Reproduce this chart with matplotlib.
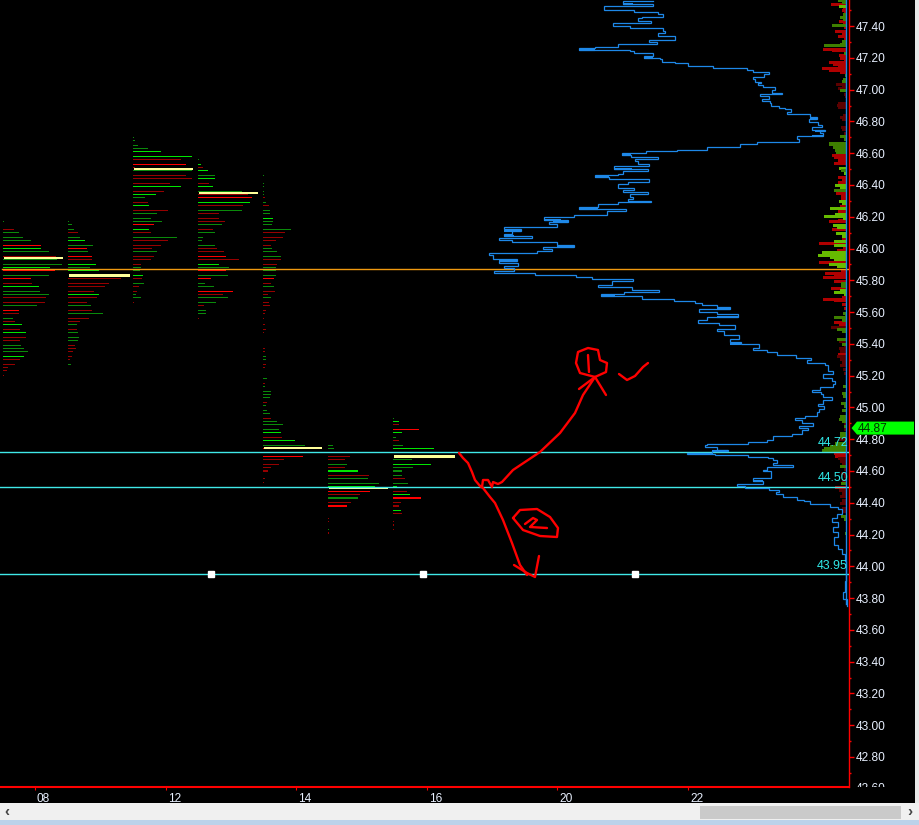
import matplotlib
matplotlib.use("Agg")
import matplotlib.pyplot as plt
from matplotlib.patches import Rectangle, Polygon
from matplotlib.transforms import Affine2D, Bbox, ScaledTranslation
from matplotlib.ticker import MultipleLocator

plt.rcParams['font.family'] = ['Liberation Sans', 'DejaVu Sans']

# ---------- data ----------
session_1 = [(46.17,1,'g'),(46.12,11,'r'),(46.10,16,'g'),(46.07,20,'g'),(46.05,28,'g'),(46.02,38,'R'),(46.00,38,'G'),(45.98,46,'g'),(45.95,53,'r'),(45.93,54,'g'),(45.90,59,'g'),(45.88,47,'G'),(45.86,52,'R'),(45.83,46,'g'),(45.81,28,'R'),(45.78,29,'r'),(45.76,36,'G'),(45.73,37,'g'),(45.71,46,'g'),(45.69,43,'r'),(45.66,42,'r'),(45.64,34,'g'),(45.61,16,'R'),(45.59,16,'r'),(45.56,10,'g'),(45.54,12,'r'),(45.52,19,'G'),(45.49,17,'r'),(45.47,23,'G'),(45.44,23,'r'),(45.42,17,'r'),(45.39,18,'g'),(45.37,21,'g'),(45.35,25,'g'),(45.32,21,'G'),(45.30,17,'r'),(45.27,12,'r'),(45.25,5,'r'),(45.23,4,'r'),(45.20,1,'r')]
session_2 = [(46.17,1,'g'),(46.15,4,'g'),(46.12,6,'g'),(46.10,10,'r'),(46.07,12,'g'),(46.05,17,'G'),(46.02,25,'g'),(46.00,19,'R'),(45.98,20,'g'),(45.95,24,'R'),(45.93,24,'r'),(45.90,28,'G'),(45.88,22,'g'),(45.86,31,'G'),(45.81,53,'r'),(45.78,41,'r'),(45.76,37,'r'),(45.73,26,'r'),(45.71,31,'G'),(45.69,29,'r'),(45.66,19,'r'),(45.64,23,'g'),(45.61,24,'r'),(45.59,35,'g'),(45.56,21,'r'),(45.54,12,'r'),(45.52,9,'g'),(45.49,9,'r'),(45.47,10,'g'),(45.44,11,'g'),(45.42,10,'g'),(45.39,7,'r'),(45.37,8,'r'),(45.35,5,'r'),(45.32,4,'r'),(45.30,2,'r'),(45.27,3,'g')]
session_3 = [(46.70,1,'g'),(46.68,2,'g'),(46.65,5,'g'),(46.63,15,'g'),(46.61,28,'G'),(46.58,59,'G'),(46.56,48,'r'),(46.53,53,'R'),(46.51,2,'r'),(46.49,59,'g'),(46.46,53,'r'),(46.44,59,'r'),(46.41,37,'r'),(46.39,48,'G'),(46.36,31,'r'),(46.34,23,'G'),(46.32,12,'g'),(46.29,15,'r'),(46.27,16,'G'),(46.24,35,'r'),(46.22,24,'g'),(46.19,18,'g'),(46.17,29,'g'),(46.15,21,'R'),(46.12,16,'G'),(46.10,18,'r'),(46.07,44,'g'),(46.05,35,'r'),(46.02,28,'r'),(46.00,19,'r'),(45.98,24,'g'),(45.95,21,'r'),(45.93,18,'r'),(45.90,8,'r'),(45.88,8,'g'),(45.86,7,'g'),(45.83,10,'G'),(45.81,9,'r'),(45.78,11,'g'),(45.76,6,'r'),(45.73,4,'r'),(45.71,3,'g'),(45.69,8,'g'),(45.66,1,'r')]
session_4 = [(46.56,1,'g'),(46.53,3,'G'),(46.51,5,'r'),(46.49,10,'G'),(46.46,17,'g'),(46.44,17,'G'),(46.41,11,'r'),(46.39,15,'G'),(46.36,44,'g'),(46.34,50,'r'),(46.32,54,'R'),(46.29,52,'G'),(46.27,45,'r'),(46.24,44,'g'),(46.22,21,'r'),(46.19,21,'r'),(46.17,27,'r'),(46.15,24,'g'),(46.12,15,'r'),(46.10,17,'g'),(46.07,5,'g'),(46.05,4,'g'),(46.02,17,'g'),(46.00,19,'r'),(45.98,26,'r'),(45.95,28,'R'),(45.93,41,'r'),(45.90,21,'G'),(45.88,31,'g'),(45.86,28,'R'),(45.83,30,'g'),(45.81,13,'R'),(45.78,7,'g'),(45.76,16,'g'),(45.73,35,'R'),(45.71,25,'r'),(45.69,30,'g'),(45.66,18,'g'),(45.64,6,'r'),(45.61,8,'g'),(45.59,8,'g'),(45.56,1,'r')]
session_5 = [(46.46,1,'g'),(46.41,1,'g'),(46.39,1,'g'),(46.36,1,'g'),(46.34,1,'g'),(46.32,2,'r'),(46.29,3,'g'),(46.27,6,'r'),(46.24,7,'g'),(46.22,7,'g'),(46.19,10,'G'),(46.17,10,'g'),(46.15,9,'g'),(46.12,28,'g'),(46.10,22,'r'),(46.07,20,'r'),(46.05,13,'r'),(46.02,8,'r'),(46.00,9,'g'),(45.98,14,'g'),(45.95,18,'g'),(45.93,18,'r'),(45.90,14,'r'),(45.88,13,'g'),(45.86,13,'g'),(45.83,13,'g'),(45.81,11,'R'),(45.78,8,'r'),(45.76,11,'g'),(45.73,12,'r'),(45.71,5,'r'),(45.69,8,'g'),(45.66,6,'r'),(45.64,7,'r'),(45.61,3,'r'),(45.59,2,'r'),(45.56,1,'r'),(45.52,2,'r'),(45.49,3,'r'),(45.47,1,'r'),(45.37,2,'r'),(45.35,2,'r'),(45.32,3,'g'),(45.30,3,'g'),(45.27,3,'r'),(45.25,2,'r'),(45.18,4,'g'),(45.15,2,'r'),(45.13,2,'g'),(45.10,8,'g'),(45.08,8,'g'),(45.06,7,'g'),(45.03,4,'r'),(45.01,3,'g'),(44.98,4,'g'),(44.96,7,'g'),(44.93,8,'r'),(44.91,14,'g'),(44.89,20,'g'),(44.86,16,'g'),(44.84,18,'G'),(44.81,19,'r'),(44.79,32,'G'),(44.76,42,'g'),(44.74,58,'R'),(44.69,40,'R'),(44.67,21,'r'),(44.64,16,'r'),(44.62,8,'r'),(44.60,5,'r'),(44.55,2,'r'),(44.53,1,'r')]
session_6 = [(44.76,5,'g'),(44.74,6,'g'),(44.69,22,'r'),(44.67,17,'r'),(44.64,19,'g'),(44.62,17,'r'),(44.60,30,'G'),(44.57,41,'r'),(44.55,40,'g'),(44.52,51,'g'),(44.50,47,'G'),(44.47,42,'R'),(44.45,32,'r'),(44.43,30,'g'),(44.40,23,'r'),(44.38,19,'R'),(44.30,1,'r'),(44.28,1,'r'),(44.23,1,'g'),(44.21,1,'r')]
session_7 = [(44.93,1,'g'),(44.91,6,'G'),(44.89,6,'r'),(44.86,26,'R'),(44.84,9,'G'),(44.81,3,'g'),(44.79,6,'r'),(44.76,10,'g'),(44.74,41,'G'),(44.67,19,'g'),(44.64,38,'G'),(44.62,20,'g'),(44.60,9,'g'),(44.57,9,'g'),(44.55,12,'r'),(44.52,15,'g'),(44.50,4,'G'),(44.47,14,'r'),(44.45,17,'G'),(44.43,28,'R'),(44.40,8,'r'),(44.38,6,'r'),(44.35,8,'G'),(44.33,9,'r'),(44.28,1,'r'),(44.26,1,'r'),(44.23,1,'r')]
sessions = [session_1, session_2, session_3, session_4, session_5, session_6, session_7]
session_start = [3, 68, 133, 198, 263, 328, 393]
poc_price = [45.94, 45.83, 46.50, 46.35, 44.745, 44.49, 44.69]
poc_size = [59, 61, 59, 59, 58, 59, 61]
poc_thick = [2.3, 3.2, 2.3, 2.3, 2.3, 1.6, 3.2]

blue_price = [47.558,47.539,47.526,47.501,47.488,47.474,47.459,47.449,47.434,47.417,47.400,47.386,47.369,47.354,47.340,47.312,47.298,47.287,47.270,47.264,47.249,47.245,47.232,47.213,47.199,47.190,47.176,47.165,47.150,47.134,47.125,47.110,47.096,47.081,47.064,47.050,47.043,47.029,47.014,46.997,46.980,46.970,46.959,46.944,46.930,46.913,46.900,46.886,46.877,46.860,46.848,46.829,46.812,46.795,46.777,46.764,46.745,46.739,46.724,46.709,46.692,46.671,46.657,46.638,46.621,46.615,46.602,46.590,46.577,46.562,46.548,46.535,46.520,46.503,46.489,46.472,46.461,46.451,46.436,46.419,46.403,46.382,46.367,46.356,46.342,46.325,46.310,46.298,46.291,46.279,46.262,46.247,46.235,46.214,46.199,46.182,46.167,46.153,46.136,46.125,46.111,46.094,46.077,46.069,46.054,46.041,46.024,46.007,45.999,45.985,45.974,45.957,45.936,45.922,45.909,45.891,45.876,45.859,45.846,45.836,45.823,45.810,45.794,45.773,45.758,45.741,45.727,45.716,45.701,45.684,45.670,45.659,45.647,45.632,45.617,45.600,45.586,45.567,45.548,45.531,45.516,45.491,45.479,45.458,45.428,45.412,45.397,45.376,45.359,45.347,45.330,45.313,45.296,45.279,45.264,45.243,45.227,45.208,45.187,45.166,45.149,45.128,45.111,45.099,45.082,45.065,45.044,45.023,45.006,44.990,44.970,44.949,44.932,44.920,44.899,44.882,44.869,44.855,44.834,44.819,44.798,44.781,44.771,44.762,44.748,44.735,44.727,44.716,44.710,44.702,44.691,44.681,44.666,44.651,44.635,44.626,44.609,44.597,44.555,44.536,44.519,44.506,44.494,44.481,44.466,44.452,44.435,44.420,44.408,44.393,44.376,44.361,44.330,44.305,44.277,44.246,44.214,44.183,44.137,44.109,44.078,44.036,43.973,43.910,43.836,43.794,43.752]
blue_x = [653,623,653,604,634,658,663,642,638,651,613,630,663,665,658,675,649,657,618,595,579,630,634,653,644,660,662,675,688,713,747,753,769,764,753,755,761,758,763,775,772,782,760,769,762,770,771,779,785,791,787,810,817,809,818,822,812,825,820,823,797,799,757,740,707,677,646,622,631,658,635,638,649,614,648,623,618,595,609,649,628,618,634,623,648,630,633,628,651,618,598,579,626,607,574,544,568,549,557,504,521,512,504,532,499,512,557,574,543,552,537,489,493,517,499,518,504,514,494,535,576,592,633,612,598,632,659,624,601,642,674,695,702,717,730,699,717,738,707,698,719,735,717,724,739,730,741,759,753,767,777,796,811,807,825,828,828,833,823,832,835,833,820,812,821,823,832,823,818,824,819,817,805,795,802,813,799,808,802,792,773,767,748,707,705,717,728,712,687,715,748,768,773,777,773,793,767,763,771,753,763,737,745,769,779,776,783,797,804,810,830,838,842,837,832,838,833,838,834,838,842,845,846,846,845,843,847]
blue_thick_price = [47.539,47.249,47.199,46.812,46.739,46.709,46.590,46.503,46.451,46.247,46.182,46.167,46.111,46.077,46.007,45.922,45.701,45.617,45.567,45.397,44.727,44.536]
blue_thick_from = [623,579,644,810,815,812,622,614,595,579,544,553,504,504,557,499,601,717,717,730,712,753]
blue_thick_to = [633,595,653,817,825,823,631,632,609,598,561,568,521,514,574,517,615,730,738,741,728,763]

# right-hand histogram: (price, size)
hist_red = [(47.533,15),(47.507,3),(47.495,4),(47.482,2),(47.430,7),(47.417,3),(47.390,2),(47.365,11),(47.350,4),(47.333,8),(47.319,2),(47.254,23),(47.245,14),(47.212,7),(47.197,6),(47.180,2),(47.170,17),(47.157,13),(47.144,8),(47.132,24),(47.121,17),(47.109,6),(46.586,14),(46.574,12),(46.557,8),(46.532,12),(46.448,8),(46.431,4),(46.414,8),(46.347,10),(46.326,5),(46.310,5),(46.263,6),(46.232,8),(46.179,8),(46.167,17),(46.117,14),(46.058,4),(46.033,27),(46.001,3),(45.986,9),(45.911,27),(45.861,5),(45.840,21),(45.827,12),(45.815,23),(45.794,12),(45.749,15),(45.693,4),(45.680,23),(45.672,12),(45.645,4),(45.624,2),(45.535,12),(45.517,7),(45.336,8),(44.711,12),(44.694,11),(44.497,11)]
hist_dark = [(47.031,10),(47.019,4),(47.006,8),(46.972,2),(46.956,1),(46.914,8),(46.901,9),(46.889,8),(46.840,3),(46.826,6),(46.809,4),(46.761,5),(46.750,4),(46.725,2),(45.504,15),(45.414,7),(45.382,2),(45.368,7),(45.351,6),(45.319,9),(45.303,6),(45.282,4),(45.261,6),(45.240,3),(45.215,2),(44.896,2),(44.858,2),(44.795,7),(44.680,8),(44.659,6),(44.644,4),(44.611,2),(44.585,5),(44.564,2),(44.543,4),(44.480,7),(44.459,4),(44.438,6),(44.417,4),(44.396,6),(44.365,4),(44.344,3)]
hist_lime = [(47.520,7),(46.505,7),(46.473,2),(46.398,11),(46.379,6),(46.295,7),(46.284,4),(46.253,16),(46.217,11),(46.200,22),(46.190,3),(46.148,13),(46.133,9),(46.096,10),(46.075,4),(46.043,12),(46.016,12),(45.974,24),(45.957,28),(45.942,16),(45.928,12),(45.898,17),(45.886,9),(45.735,6),(45.722,12),(45.708,2)]
hist_olive = [(47.558,8),(47.547,4),(47.470,3),(47.455,6),(47.442,3),(47.402,14),(47.302,4),(47.287,6),(47.275,22),(47.228,2),(47.092,1),(47.065,3),(47.050,4),(46.993,6),(46.704,6),(46.683,2),(46.662,17),(46.652,17),(46.635,13),(46.620,11),(46.603,10),(46.494,5),(46.364,12),(45.781,5),(45.760,5),(45.592,3),(45.575,1),(45.563,12),(45.550,4),(45.491,9),(45.477,4),(45.429,9),(45.399,4),(45.131,3),(45.089,4),(45.068,3),(45.022,5),(45.005,2),(44.980,4),(44.942,6),(44.925,7),(44.910,4),(44.879,2),(44.837,6),(44.816,6),(44.774,11),(44.753,16),(44.740,22),(44.728,24),(44.627,6),(44.522,5),(44.312,5),(44.292,2),(44.208,1)]

level_price = [45.87, 44.72, 44.50, 43.95]
level_color = ['#f09a10', '#40e8e8', '#40e8e8', '#40e8e8']
cyan_label = ['44.72', '44.50', '43.95']
cyan_label_price = [44.72, 44.50, 43.95]
handle_x = [211, 423, 635]
last_price = 44.87
x_ticks = [35, 166, 296, 427, 557, 688]
x_labels = ['08', '12', '14', '16', '20', '22']

# freehand pen strokes, in screen pixels
pen_strokes = [
    [(459,453),(463,458),(468,463),(472,472),(475,480),(480,486),(483,488),(490,497),(495,503),(503,520),(512,543),(520,565),(527,575)],
    [(514,565),(527,573),(535,577),(539,556)],
    [(480,486),(482,487),(483,480),(488,480),(492,487),(493,482),(498,484),(502,482),(513,470),(540,452),(560,433),(575,413),(583,395),(595,377)],
    [(579,389),(595,377),(606,395)],
    [(595,377),(580,373),(576,363),(578,352),(588,348),(598,350),(600,360),(607,363),(606,372),(595,377)],
    [(588,355),(589,372)],
    [(619,374),(627,380),(635,376),(643,367),(648,363)],
    [(513,518),(520,510),(537,509),(550,517),(558,528),(557,537),(540,536),(523,530),(513,518)],
    [(525,524),(533,518),(537,520),(530,527),(547,528)],
]

TPO = {'R': '#ff0000', 'r': '#960000', 'G': '#00e600', 'g': '#0a8a0a'}
BLUE = '#1e88e8'
TXT = '#e8f0ff'

# ---------- figure ----------
W, H = 919, 825
fig = plt.figure(figsize=(W / 100, H / 100), dpi=100, facecolor='black')
ax = fig.add_axes([0, (H - 787) / H, 849 / W, 787 / H], facecolor='black')
ax.set_xlim(0, 849)
ax.set_ylim(47.564 - 787 / 158.9, 47.564)
PX = 1 / 158.9  # price per pixel

# session profiles
for rows, x0, pp, ps, pt in zip(sessions, session_start, poc_price, poc_size, poc_thick):
    for price, size, code in rows:
        ax.barh(price, size, left=x0, height=PX * 1.15, color=TPO[code], linewidth=0, antialiased=False, zorder=2)
    ax.barh(pp, ps, left=x0 + 1, height=PX * pt, color='#ffff99', linewidth=0, antialiased=False, zorder=3)

# right histogram
for rows, col in zip([hist_red, hist_dark, hist_lime, hist_olive], ['#b00000', '#5c0000', '#66bb00', '#3f7f00']):
    for price, size in rows:
        ax.barh(price, size, left=846 - size, height=PX * 3.0, color=col, linewidth=0, antialiased=False, zorder=2)

# horizontal levels
for price, col in zip(level_price, level_color):
    ax.axhline(price, color=col, lw=1, zorder=4, xmin=2 / 849 if col == '#f09a10' else 0)

# volume profile outline
ax.step(blue_x, blue_price, where='post', color=BLUE, lw=0.9, zorder=5, solid_joinstyle='miter')
ax.hlines(blue_thick_price, blue_thick_from, blue_thick_to, color=BLUE, lw=1.5, zorder=5)
ax.plot([846, 846], [47.564, 43.76], color=BLUE, lw=1, zorder=6)

# drag handles
ax.plot(handle_x, [level_price[3]] * 3, ls='none', marker='s', ms=5, mfc='white', mec='white', zorder=7)

# cyan level labels
for s, p in zip(cyan_label, cyan_label_price):
    ax.text(848, p + 0.053, s, color='#30e8e8', fontsize=8.9, ha='right', va='center', zorder=8)

# pen strokes
pix = Affine2D().scale(1, -1).translate(0, H)
for stroke in pen_strokes:
    xs, ys = zip(*stroke)
    ax.plot(xs, ys, color='#ff0000', lw=1.7, transform=pix, zorder=9, solid_capstyle='round')

# axes
for s in ['top', 'left']:
    ax.spines[s].set_visible(False)
ax.spines['right'].set_color('#ff0000')
ax.spines['right'].set_linewidth(1.0)
ax.spines['bottom'].set_color('#ff0000')
ax.spines['bottom'].set_linewidth(1.5)
ax.yaxis.tick_right()
ax.yaxis.set_major_locator(MultipleLocator(0.2))
ax.yaxis.set_minor_locator(MultipleLocator(0.1))
ax.yaxis.set_major_formatter(lambda v, _: f'{v:.2f}')
ax.tick_params(axis='y', which='major', colors=TXT, labelsize=8.6, length=3.5, width=1, color='#ff0000', pad=1.5)
ax.tick_params(axis='y', which='minor', length=1.5, width=1, color='#ff0000')
ax.set_xticks(x_ticks, x_labels)
ax.tick_params(axis='x', colors=TXT, labelsize=8.6, length=2, width=0.8, color='#ff0000', pad=2)
shift = ScaledTranslation(2 / 100, 0, fig.dpi_scale_trans)
for lab in ax.get_xticklabels():
    lab.set_ha('left')
    lab.set_transform(lab.get_transform() + shift)

# clipped bottom price label
t = ax.text(856, 42.60, '42.60', color=TXT, fontsize=8.6, va='center', ha='left', clip_on=True)
t.set_clip_box(Bbox([[0, H - 787], [W, H]]))

# last-price tag
ax.add_patch(Polygon([(851.5, last_price), (857, last_price + 6.5 * PX), (914, last_price + 6.5 * PX),
                      (914, last_price - 6.5 * PX), (857, last_price - 6.5 * PX)],
                     closed=True, fc='#00ff00', ec='none', clip_on=False, zorder=10))
ax.text(858, last_price - 0.003, f'{last_price:.2f}', color='#003000', fontsize=8.6, va='center', ha='left', zorder=11, clip_on=False)

# window chrome
def frect(x0, y0, x1, y1, col, z=20):
    fig.add_artist(Rectangle((x0 / W, 1 - y1 / H), (x1 - x0) / W, (y1 - y0) / H, transform=fig.transFigure,
                             fc=col, ec='none', zorder=z))

frect(915, 0, 919, 803, '#e8e8e8')
frect(0, 803, 919, 820, '#f0f0f0')
frect(700, 806, 901, 819, '#cacaca', 21)
frect(0, 820, 919, 825, '#bcd2ea')
fig.text(7 / W, 1 - 812 / H, '‹', color='#444444', fontsize=11, ha='center', va='center', zorder=22, fontweight='bold')
fig.text(910 / W, 1 - 812 / H, '›', color='#444444', fontsize=11, ha='center', va='center', zorder=22, fontweight='bold')

fig.savefig('out.png', dpi=100, facecolor='black')
